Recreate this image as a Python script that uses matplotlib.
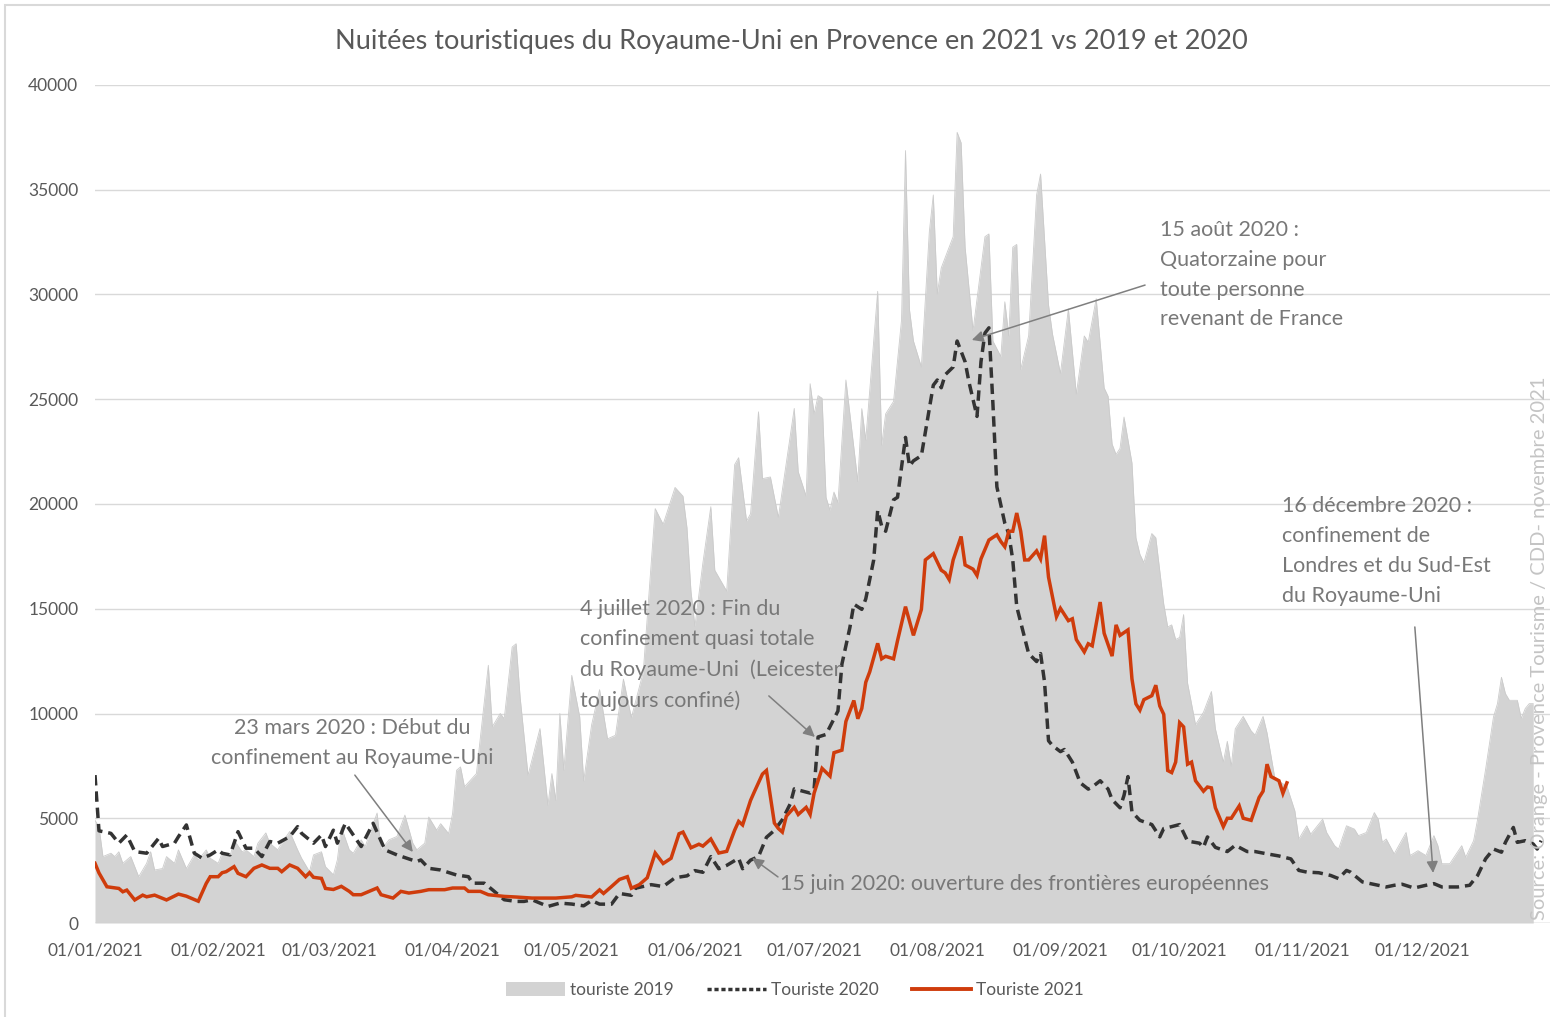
import matplotlib
matplotlib.use("Agg")
import matplotlib.pyplot as plt
from matplotlib.patches import Patch, Rectangle
from matplotlib.lines import Line2D

# ---------------- data (day index 0 = 01/01) ----------------
days_2019 = [0, 1, 2, 4, 5, 6, 7, 9, 11, 13, 14, 15, 17, 18, 20, 21, 23, 25, 26, 28, 29, 31, 32, 34, 35, 37, 38, 40,
             41, 43, 44, 46, 47, 49, 51, 52, 54, 55, 57, 58, 60, 61, 62, 64, 65, 67, 68, 71, 72, 74, 76, 78, 80, 81,
             83, 84, 86, 87, 89, 90, 91, 92, 93, 96, 99, 100, 102, 103, 105, 106, 107, 109, 112, 114, 115, 116, 117,
             118, 120, 122, 123, 125, 127, 129, 131, 133, 135, 138, 141, 143, 144, 146, 148, 149, 150, 151, 153, 155,
             156, 159, 161, 162, 164, 165, 167, 168, 170, 172, 176, 177, 179, 180, 181, 182, 183, 184, 185, 186, 187,
             189, 192, 193, 194, 197, 198, 199, 201, 203, 204, 205, 206, 208, 210, 211, 212, 213, 214, 216, 217, 218,
             219, 221, 223, 224, 225, 226, 228, 229, 230, 231, 232, 233, 235, 237, 238, 240, 241, 243, 245, 247, 249,
             250, 252, 254, 255, 256, 257, 258, 259, 261, 262, 263, 264, 266, 267, 269, 270, 271, 272, 273, 274, 275,
             277, 279, 281, 282, 284, 285, 286, 287, 289, 291, 292, 294, 295, 297, 300, 302, 303, 305, 306, 309, 310,
             312, 313, 315, 317, 318, 320, 322, 323, 324, 325, 327, 330, 331, 333, 335, 337, 338, 339, 341, 344, 345,
             347, 348, 350, 352, 353, 354, 355, 356, 358, 359, 360, 361, 362]
vals_2019 = [4900, 4600, 3170, 3330, 3170, 3400, 2850, 3170, 2210, 2850, 3400, 2530, 2600, 3170, 2850, 3490, 2600,
             3250, 3010, 3490, 3090, 2850, 3330, 3170, 3970, 3400, 3490, 3170,
             3810, 4300, 3810, 3490, 3810, 4370, 3490, 3090, 2450, 3250, 3400, 2690, 2300, 3010, 4580, 3490, 3330,
             3970, 3650, 5250, 3490, 3970, 4130, 5150, 3810, 3490,
             3810, 5060, 4430, 4740, 4270, 5220, 7290, 7450, 6500, 7130, 12300, 9370, 10000, 9750, 13170, 13330,
             10780, 7050, 9280, 5620, 7130, 5850, 10000,
             7290, 11820, 9840, 6780, 9460, 11140, 8790, 8960, 11640, 9800, 11980, 19780, 19030, 19610, 20790, 20370,
             18860, 15840, 14160, 17180, 19870,
             16840, 15840, 21880, 22210, 19190, 19530, 24400, 21210, 21290, 19360, 24560, 21540, 20370, 25740, 24300,
             25170, 25050, 20320, 19700, 20570, 20070,
             25920, 21070, 24550, 23060, 30150, 22810, 24300, 24900, 28780, 36870, 29280, 27780, 26540, 33000, 34750,
             30030, 31270, 31770, 32760, 37740, 37240,
             32260, 28280, 31270, 32760, 32890, 27780, 27040, 29650, 28030, 32260, 32390, 26420, 28030, 34750, 35750,
             29500, 28110, 26230, 29310, 25240, 28020,
             27720, 29800, 25540, 25140, 22860, 22360, 22660, 24150, 21960, 18390, 17600, 17200, 18590, 18390, 15220,
             14130, 14230, 13530, 13630, 14720, 11450,
             9470, 10060, 11050, 9270, 7680, 8670, 7480, 9270, 9860, 9170, 8970, 9860, 9070, 6880, 6530, 5350, 4010,
             4640, 4240, 4950, 4320,
             3690, 3530, 4640, 4480, 4170, 4320, 5270, 4950, 3850, 4010, 3300, 4320, 3220, 3450, 3220, 4170, 3690,
             2830, 2830, 3690, 3140,
             3930, 4950, 7320, 9840, 10470, 11730, 10950, 10630, 10630, 9760, 10240, 10470, 10470]

days_2020 = [0, 1, 4, 6, 8, 10, 13, 16, 17, 20, 21, 23, 25, 27, 29, 31, 32, 34, 36, 38, 40, 42, 44, 46, 49, 51, 52,
             55, 57, 58, 60, 61, 63, 67, 70, 73, 76, 81, 82, 84, 87, 91, 94, 95, 98, 100, 103, 106, 108, 110, 114,
             117, 120, 123, 125, 127, 130, 132, 135, 136, 140, 143, 146, 149, 151, 153, 155, 157, 159, 162, 163, 165,
             167, 169, 171, 173, 175, 176, 178, 180, 181, 182, 184, 186, 187, 188, 190, 191, 193, 194, 196, 197, 198,
             199, 201, 202, 204, 205, 206, 208, 211, 212, 213, 214, 216, 217, 219, 220, 222, 223, 224, 225, 226, 227,
             229, 230, 231, 232, 234, 235, 237, 238, 239, 240, 241, 243, 244, 246, 248, 250, 251, 253, 255, 256, 258,
             259, 260, 261, 263, 266, 268, 269, 271, 273, 275, 278, 279, 280, 282, 285, 287, 290, 292, 295, 298, 301,
             303, 305, 308, 311, 313, 315, 316, 319, 321, 325, 327, 329, 332, 335, 337, 339, 343, 346, 348, 350, 352,
             354, 355, 357, 358, 360, 362, 363, 364]
vals_2020 = [7060, 4400, 4280, 3810, 4200, 3410, 3330, 4040, 3650, 3810, 4120, 4680, 3330, 3090, 3250, 3490, 3330,
             3250, 4360, 3570, 3570, 3170, 3890, 3810, 4120, 4600, 4280,
             3810, 4200, 3650, 4430, 3810, 4760, 3650, 4760, 3490, 3250, 2930, 3010, 2610, 2530, 2290, 2210, 1900,
             1900, 1590, 1110, 1030, 1030, 1110, 790,
             950, 904, 820, 1070, 900, 900, 1410, 1320, 1660, 1830, 1740, 2160, 2250, 2500, 2420, 3170, 2590, 2750,
             3090, 2590, 3000,
             3170, 4090, 4420, 4930, 5690, 6400, 6300, 6200, 6400, 8880, 9000, 9750, 10120, 12360, 14100, 15220,
             14970, 15470, 17330, 19700, 18950,
             18700, 20200, 20320, 23180, 21810, 22060, 22310, 25670, 25920, 25550, 26170, 26540, 27780, 26790, 25800,
             24180, 26790, 28160, 28410, 24800, 20820,
             19080, 18580, 17330, 15100, 13600, 12860, 12480, 12860, 11500, 8700, 8470, 8180, 8280, 7680, 6690, 6390,
             6490, 6790, 6390, 5890, 5500,
             6090, 6990, 5300, 4900, 4700, 4110, 4510, 4600, 4700, 3910, 3810, 3610, 4110, 3610, 3410, 3710, 3410,
             3410, 3300, 3200, 3060,
             2510, 2430, 2400, 2270, 2120, 2510, 2430, 1960, 1880, 1720, 1800, 1850, 1670, 1800, 1880, 1720, 1720,
             1800, 2270, 3060, 3530,
             3380, 3850, 4560, 3850, 3930, 3770, 3530, 3930]

days_2021 = [0, 1, 3, 6, 7, 8, 10, 12, 13, 15, 18, 21, 23, 26, 28, 29, 31, 32, 33, 35, 36, 38, 40, 41, 42, 44, 46, 47,
             49, 51, 53, 54, 55, 57, 58, 60, 62, 64, 65, 67, 69, 71, 72, 75, 77, 79, 82, 84, 88, 90, 93, 94, 97, 99,
             103, 106, 110, 113, 116, 120, 121, 125, 127, 128, 130, 132, 134, 135, 137, 139, 141, 143, 145, 147, 148,
             150, 152, 153, 155, 157, 159, 161, 162, 163, 165, 166, 168, 169, 171, 172, 173, 174, 176, 177, 179, 180,
             181, 183, 185, 186, 188, 189, 191, 192, 193, 194, 195, 197, 198, 199, 201, 202, 204, 206, 208, 209, 211,
             213, 214, 215, 216, 218, 219, 221, 222, 223, 225, 227, 228, 229, 230, 231, 232, 233, 234, 235, 237, 238,
             239, 240, 242, 243, 245, 246, 247, 249, 250, 251, 253, 254, 256, 257, 258, 260, 261, 262, 263, 264, 266,
             267, 268, 269, 270, 271, 272, 273, 274, 275, 276, 277, 279, 280, 281, 282, 284, 285, 286, 288, 289, 291,
             293, 294, 295, 296, 298, 299, 300]
vals_2021 = [2850, 2390, 1730, 1650, 1490, 1570, 1100, 1330, 1250, 1330, 1100, 1380, 1280, 1040, 1890, 2210, 2210,
             2400, 2450, 2690, 2370, 2210, 2610, 2690, 2770, 2610, 2610, 2450,
             2770, 2610, 2210, 2400, 2180, 2130, 1650, 1600, 1750, 1510, 1350, 1350, 1510, 1670, 1350, 1190, 1510,
             1430, 1510, 1590, 1590, 1670, 1670, 1510, 1510, 1350,
             1270, 1240, 1190, 1190, 1190, 1250, 1320, 1240, 1580, 1410, 1740, 2080, 2210, 1660, 1830, 2160, 3340,
             2840, 3090, 4260, 4340,
             3590, 3760, 3670, 4010, 3340, 3420, 4430, 4850, 4680, 5850, 6280, 7110, 7280, 4770, 4510, 4340, 5100,
             5520, 5180, 5520, 5180,
             6200, 7380, 7010, 8130, 8250, 9620, 10620, 9750, 10240, 11490, 11990, 13350, 12610, 12730, 12610, 13480,
             15100, 13730, 14970, 17330, 17630,
             16840, 16710, 16390, 17330, 18450, 17090, 16890, 16590, 17380, 18280, 18530, 18210, 17960, 18700, 18700,
             19570, 18700, 17330, 17330, 17760, 17380,
             18490, 16510, 14620, 15020, 14430, 14520, 13530, 12940, 13330, 13230, 15320, 13830, 12740, 14230, 13730,
             13990, 11650, 10460, 10160, 10660, 10850,
             11350, 10360, 9960, 7280, 7180, 7680, 9560, 9360, 7580, 7680, 6790, 6290, 6490, 6450, 5500, 4600, 5000,
             5000, 5590, 5000, 4900,
             5990, 6290, 7580, 6990, 6790, 6190, 6690]

month_days = [0, 31, 59, 90, 120, 151, 181, 212, 243, 273, 304, 334]
month_labels = ["01/01/2021", "01/02/2021", "01/03/2021", "01/04/2021", "01/05/2021", "01/06/2021",
                "01/07/2021", "01/08/2021", "01/09/2021", "01/10/2021", "01/11/2021", "01/12/2021"]
y_ticks = [0, 5000, 10000, 15000, 20000, 25000, 30000, 35000, 40000]
series_names = ["touriste 2019", "Touriste 2020", "Touriste 2021"]

title = "Nuitées touristiques du Royaume-Uni en Provence en 2021 vs 2019 et 2020"
source = "Source: Orange - Provence Tourisme / CDD- novembre 2021"

assert len(days_2019) == len(vals_2019)
assert len(days_2020) == len(vals_2020)
assert len(days_2021) == len(vals_2021)

# ---------------- style ----------------
FONT = ["Lato", "DejaVu Sans"]
plt.rcParams["font.family"] = FONT
GRAY_TXT = "#595959"
ANN = "#787878"
C2019 = "#d3d3d3"
C2020 = "#333333"
C2021 = "#cf3c0c"

W, H = 1550, 1017
fig = plt.figure(figsize=(W / 100, H / 100), dpi=100)
ax = fig.add_axes([95 / W, 1 - 923 / H, 1 - 95 / W, (923 - 85) / H])

ax.set_xlim(0, (W - 95) / 3.973)
ax.set_ylim(0, 40000)

ax.fill_between(days_2019, vals_2019, 0, color=C2019, lw=0, zorder=2)
ax.plot(days_2019, vals_2019, color="#cbcbcb", lw=0.6, zorder=2)
ax.plot(days_2020, vals_2020, color=C2020, lw=2.5, ls=(0, (3.0, 1.7)), zorder=4)
ax.plot(days_2021, vals_2021, color=C2021, lw=2.5, zorder=5, solid_joinstyle="miter")

ax.set_yticks(y_ticks)
ax.set_yticklabels([str(v) for v in y_ticks])
ax.set_xticks(month_days)
ax.set_xticklabels(month_labels)
ax.grid(axis="y", color="#d9d9d9", lw=1.0, zorder=1)
ax.set_axisbelow(True)
for s in ax.spines.values():
    s.set_visible(False)
ax.axhline(0, color="#d0d0d0", lw=1.0, zorder=3)
ax.tick_params(axis="both", length=0, labelsize=12.5, labelcolor=GRAY_TXT)
ax.tick_params(axis="y", pad=12)
ax.tick_params(axis="x", pad=14)

# title
fig.text(791 / W, 1 - 42 / H, title, ha="center", va="center", fontsize=19.5, color=GRAY_TXT)

# annotations
arrow_kw = dict(arrowstyle="-|>", color="#7f7f7f", lw=1.1, mutation_scale=17, shrinkA=0, shrinkB=0)
txt_kw = dict(fontsize=15.5, color=ANN, linespacing=1.62)

ax.text(64.7, 8600, "23 mars 2020 : Début du\nconfinement au Royaume-Uni", ha="center", va="center",
        multialignment="center", zorder=6, **txt_kw)
ax.annotate("", xy=(80.0, 3390), xytext=(65.4, 7060), arrowprops=arrow_kw, zorder=6)

ax.text(122.1, 12800, "4 juillet 2020 : Fin du\nconfinement quasi totale\ndu Royaume-Uni  (Leicester\ntoujours confiné)",
        ha="left", va="center", zorder=6, **txt_kw)
ax.annotate("", xy=(181.2, 8880), xytext=(169.6, 10840), arrowprops=arrow_kw, zorder=6)

ax.text(172.4, 1860, "15 juin 2020: ouverture des frontières européennes", ha="left", va="center",
        zorder=6, **txt_kw)
ax.annotate("", xy=(165.4, 3100), xytext=(171.9, 2200), arrowprops=arrow_kw, zorder=6)

ax.text(268.1, 30950, "15 août 2020 :\nQuatorzaine pour\ntoute personne\nrevenant de France",
        ha="left", va="center", zorder=6, **txt_kw)
ax.annotate("", xy=(220.7, 27830), xytext=(264.3, 30450), arrowprops=arrow_kw, zorder=6)

ax.text(298.8, 17760, "16 décembre 2020 :\nconfinement de\nLondres et du Sud-Est\ndu Royaume-Uni",
        ha="left", va="center", zorder=6, **txt_kw)
ax.annotate("", xy=(336.8, 2390), xytext=(332.2, 14130), arrowprops=arrow_kw, zorder=6)

# source (rotated, at the right edge)
fig.text(1539 / W, 1 - 920 / H, source, rotation=90, ha="center", va="bottom", fontsize=14.5, color="#c4c4c4")

# legend
handles = [Patch(facecolor=C2019, edgecolor="none"),
           Line2D([], [], color=C2020, lw=2.5, ls=(0, (1.2, 0.8))),
           Line2D([], [], color=C2021, lw=2.8)]
fig.legend(handles, series_names, loc="center", bbox_to_anchor=(795 / W, 1 - 990 / H), ncol=3, frameon=False,
           fontsize=12.5, labelcolor=GRAY_TXT, handlelength=3.4, handleheight=0.9, handletextpad=0.3,
           columnspacing=1.9)

# chart-area border
fig.patches.append(Rectangle((5 / W, -0.05), 1.2, 1 - 5 / H + 0.05, transform=fig.transFigure,
                             fill=False, edgecolor="#d9d9d9", lw=1.5))

fig.savefig("out.png", dpi=100)
